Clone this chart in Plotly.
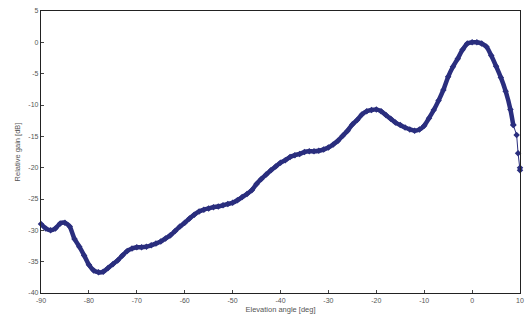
import plotly.graph_objects as go

angles = [-90, -89, -88, -87, -86, -85, -84, -83, -82, -81, -80, -79, -78, -77, -76, -75,
          -74, -73, -72, -71, -70, -69, -68, -67, -66, -65, -64, -63, -62, -61, -60, -59,
          -58, -57, -56, -55, -54, -53, -52, -51, -50, -49, -48, -47, -46, -45, -44, -43,
          -42, -41, -40, -39, -38, -37, -36, -35, -34, -33, -32, -31, -30, -29, -28, -27,
          -26, -25, -24, -23, -22, -21, -20, -19, -18, -17, -16, -15, -14, -13, -12, -11,
          -10, -9, -8, -7, -6, -5, -4, -3, -2, -1, 0, 1, 2, 3, 4, 5, 6, 7, 8, 8.6, 9.3,
          9.6, 10, 10]
gain = [-29.0, -29.7, -30.0, -29.7, -28.9, -28.8, -29.4, -31.4, -32.6, -34.0, -35.5, -36.4,
        -36.7, -36.6, -36.0, -35.4, -34.8, -34.0, -33.3, -32.9, -32.7, -32.7, -32.6, -32.4,
        -32.1, -31.8, -31.3, -30.8, -30.1, -29.4, -28.8, -28.1, -27.5, -27.0, -26.7, -26.5,
        -26.3, -26.2, -26.0, -25.8, -25.6, -25.2, -24.7, -24.2, -23.6, -22.6, -21.8, -21.1,
        -20.4, -19.8, -19.2, -18.8, -18.3, -18.0, -17.8, -17.5, -17.4, -17.4, -17.3, -17.1,
        -16.8, -16.3, -15.7, -14.9, -14.1, -13.1, -12.4, -11.5, -11.0, -10.8, -10.7, -11.0,
        -11.6, -12.2, -12.8, -13.2, -13.6, -13.9, -14.1, -13.9, -13.3, -12.1, -10.8, -9.3,
        -7.6, -5.5, -3.9, -2.6, -1.2, -0.2, 0.0, 0.0, -0.2, -0.7, -2.1, -3.8, -5.6, -7.8,
        -10.7, -13.2, -14.8, -17.7, -20.4, -20.0]

x_ticks = [-90, -80, -70, -60, -50, -40, -30, -20, -10, 0, 10]
y_ticks = [5, 0, -5, -10, -15, -20, -25, -30, -35, -40]

navy = "#2a2e7e"
fig = go.Figure()
# thick main curve
fig.add_trace(go.Scatter(
    x=angles[:-4], y=gain[:-4], mode="lines+markers",
    line=dict(color=navy, width=4.5, shape="spline", smoothing=0.6),
    marker=dict(symbol="diamond", size=5, color=navy),
    showlegend=False, cliponaxis=False,
))
# sparse steep tail: thin line with diamonds
fig.add_trace(go.Scatter(
    x=angles[-5:], y=gain[-5:], mode="lines+markers",
    line=dict(color=navy, width=1),
    marker=dict(symbol="diamond", size=5, color=navy),
    showlegend=False, cliponaxis=False,
))

font_col = "#555555"
fig.update_layout(
    width=527, height=322,
    margin=dict(l=41, r=7, t=11, b=29),
    paper_bgcolor="white", plot_bgcolor="white",
    font=dict(family="Liberation Sans, Arial, sans-serif", size=7, color=font_col),
)
fig.update_xaxes(
    range=[-90, 10], tickvals=x_ticks, ticktext=[str(v) for v in x_ticks],
    showgrid=False, zeroline=False, automargin=False,
    showline=True, linecolor="#222222", linewidth=1.3, mirror=True,
    ticks="inside", ticklen=3, tickcolor="#444444",
    title=dict(text="Elevation angle [deg]", font=dict(size=7.5, color=font_col), standoff=4),
    tickfont=dict(size=7, color=font_col),
)
fig.update_yaxes(
    range=[-40, 5], tickvals=y_ticks, ticktext=[str(v) for v in y_ticks],
    showgrid=False, zeroline=False, automargin=False,
    showline=True, linecolor="#222222", linewidth=1.3, mirror=True,
    ticks="inside", ticklen=3, tickcolor="#444444",
    title=dict(text="Relative gain [dB]", font=dict(size=7.5, color=font_col), standoff=6),
    tickfont=dict(size=7, color=font_col),
)

fig.write_html("out.html", config={"displayModeBar": False},
               post_script="document.body.style.margin='0';")
